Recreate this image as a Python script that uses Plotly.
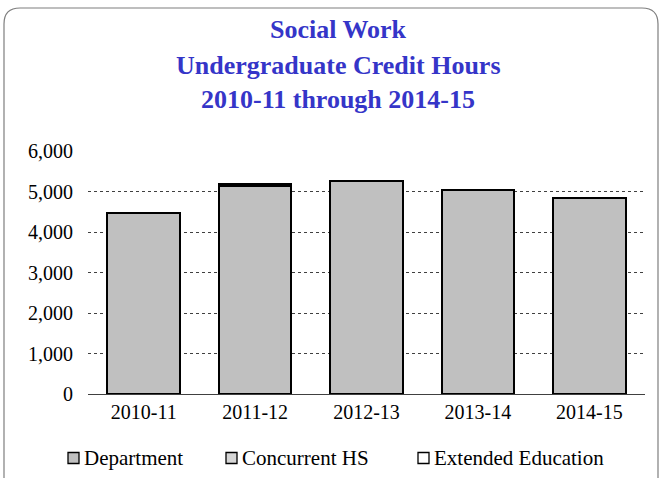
import plotly.graph_objects as go

years = ["2010-11", "2011-12", "2012-13", "2013-14", "2014-15"]
department = [4460, 5140, 5250, 5030, 4840]
concurrent_hs = [0, 50, 0, 0, 0]
extended_ed = [0, 0, 0, 0, 0]
y_ticks = [0, 1000, 2000, 3000, 4000, 5000, 6000]
title_lines = ["Social Work", "Undergraduate Credit Hours", "2010-11 through 2014-15"]
series_names = ["Department", "Concurrent HS", "Extended Education"]
series_fills = ["#C0C0C0", "#D6D6D6", "white"]

W, H = 661, 478
L, R, T, B = 88, 16, 151, 84
pw, ph = W - L - R, H - T - B
SERIF = "Liberation Serif, Times New Roman, serif"

def px_x(p):
    return (p - L) / pw

def px_y(p):
    return (H - B - p) / ph

fig = go.Figure()
fig.add_bar(name=series_names[0], x=years, y=department,
            marker=dict(color=series_fills[0], line=dict(color="black", width=2)))
fig.add_bar(name=series_names[1], x=years, y=concurrent_hs,
            marker=dict(color=series_fills[1], line=dict(color="black", width=2),
                        pattern=dict(shape=".", fgcolor="#808080", bgcolor="#E8E8E8", size=3)))
fig.add_bar(name=series_names[2], x=years, y=extended_ed,
            marker=dict(color=series_fills[2], line=dict(color="black", width=2)))

# rounded outer frame
x0, x1, y0, y1, r = 4, 658, 8, 490, 16
path = (f"M {px_x(x0)},{px_y(y0 + r)} "
        f"Q {px_x(x0)},{px_y(y0)} {px_x(x0 + r)},{px_y(y0)} "
        f"L {px_x(x1 - r)},{px_y(y0)} "
        f"Q {px_x(x1)},{px_y(y0)} {px_x(x1)},{px_y(y0 + r)} "
        f"L {px_x(x1)},{px_y(y1)} L {px_x(x0)},{px_y(y1)} Z")
fig.add_shape(type="path", path=path, xref="paper", yref="paper",
              line=dict(color="#7F7F7F", width=1.2), layer="below")

# three-line bold title
for i, line in enumerate(title_lines):
    fig.add_annotation(text=f"<b>{line}</b>", x=px_x(338), y=px_y(30 + 35 * i),
                       xref="paper", yref="paper", showarrow=False,
                       xanchor="center", yanchor="middle",
                       font=dict(family=SERIF, size=26, color="#3535C8"))

# legend row: small boxed swatch followed by its label
legend_y = 458
for name, fill, sx in zip(series_names, series_fills, [68, 226, 418]):
    fig.add_shape(type="rect", xref="paper", yref="paper",
                  x0=px_x(sx), x1=px_x(sx + 11), y0=px_y(legend_y - 5.5), y1=px_y(legend_y + 5.5),
                  fillcolor=fill, line=dict(color="black", width=1.3))
    fig.add_annotation(text=name, x=px_x(sx + 14), y=px_y(legend_y),
                       xref="paper", yref="paper", showarrow=False,
                       xanchor="left", yanchor="middle",
                       font=dict(family=SERIF, size=21, color="black"))

fig.update_layout(
    barmode="stack",
    bargap=0.35,
    width=W, height=H,
    margin=dict(l=L, r=R, t=T, b=B, autoexpand=False),
    paper_bgcolor="white",
    plot_bgcolor="white",
    font=dict(family=SERIF, size=20, color="black"),
    showlegend=False,
)
fig.update_xaxes(type="category", showgrid=False, showline=False, ticks="",
                 tickfont=dict(family=SERIF, size=20), zeroline=False,
                 ticklabelstandoff=4)
fig.update_yaxes(range=[0, 6000], tickvals=y_ticks, tickformat=",", ticks="",
                 showgrid=True, gridcolor="#404040", griddash="dot", gridwidth=1,
                 zeroline=True, zerolinecolor="#404040", zerolinewidth=1.2,
                 showline=False, tickfont=dict(family=SERIF, size=20),
                 ticklabelstandoff=14)

fig.write_html("out.html")
